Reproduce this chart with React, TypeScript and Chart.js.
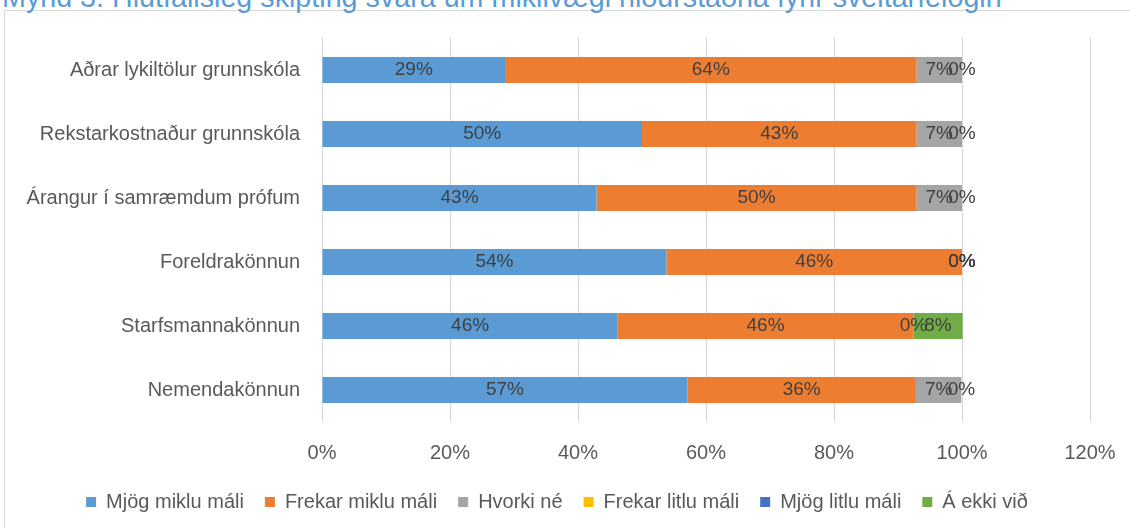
import React, { useEffect, useRef } from "react";
import { Chart, registerables } from "chart.js";

Chart.register(...registerables);

const titleText =
  "Mynd 3. Hlutfallsleg skipting svara um mikilvægi niðurstaðna fyrir sveitarfélögin";

const categories = [
  "Aðrar lykiltölur grunnskóla",
  "Rekstarkostnaður grunnskóla",
  "Árangur í samræmdum prófum",
  "Foreldrakönnun",
  "Starfsmannakönnun",
  "Nemendakönnun",
];

const seriesNames = [
  "Mjög miklu máli",
  "Frekar miklu máli",
  "Hvorki né",
  "Frekar litlu máli",
  "Mjög litlu máli",
  "Á ekki við",
];

const mjogMikluMali = [28.6, 50.0, 42.9, 53.8, 46.2, 57.1];
const frekarMikluMali = [64.3, 42.9, 50.0, 46.2, 46.2, 35.7];
const hvorkiNe = [7.1, 7.1, 7.1, 0, 0, 7.1];
const frekarLitluMali = [0, 0, 0, 0, null, 0];
const mjogLitluMali = [null, null, null, 0, null, null];
const aEkkiVid = [null, null, null, null, 7.7, null];

const xMin = 0;
const xMax = 120;
const xStep = 20;

const seriesColors = ["#5B9BD5", "#ED7D31", "#A5A5A5", "#FFC000", "#4472C4", "#70AD47"];

const FONT = '"Liberation Sans", Arial, sans-serif';

const segLabels = {
  id: "segLabels",
  afterDatasetsDraw(chart: any) {
    const ctx = chart.ctx;
    ctx.save();
    ctx.font = `19px ${FONT}`;
    ctx.fillStyle = "#404040";
    ctx.textAlign = "center";
    ctx.textBaseline = "middle";
    chart.data.datasets.forEach((ds: any, di: number) => {
      const meta = chart.getDatasetMeta(di);
      if (meta.hidden) return;
      meta.data.forEach((el: any, i: number) => {
        const v = ds.data[i];
        if (v === null || v === undefined) return;
        const p = el.getProps(["x", "y", "base"], true);
        ctx.fillText(Math.round(v) + "%", (p.x + p.base) / 2, p.y);
      });
    });
    ctx.restore();
  },
};

export default function App() {
  const ref = useRef<HTMLCanvasElement | null>(null);

  useEffect(() => {
    if (!ref.current) return;
    const allSeries = [mjogMikluMali, frekarMikluMali, hvorkiNe, frekarLitluMali, mjogLitluMali, aEkkiVid];
    const chart = new Chart(ref.current, {
      type: "bar",
      data: {
        labels: categories,
        datasets: allSeries.map((d, i) => ({
          label: seriesNames[i],
          data: d as any,
          backgroundColor: seriesColors[i],
          borderWidth: 0,
          barPercentage: 0.41,
          categoryPercentage: 1,
        })),
      },
      options: {
        indexAxis: "y",
        responsive: false,
        animation: false,
        layout: { padding: { top: 38, right: 40, left: 24, bottom: 6 } },
        scales: {
          x: {
            stacked: true,
            min: xMin,
            max: xMax,
            ticks: {
              stepSize: xStep,
              callback: (v: any) => v + "%",
              font: { family: FONT, size: 20 },
              color: "#595959",
              padding: 19,
            },
            grid: { color: "#D9D9D9", lineWidth: 1, drawTicks: false },
            border: { display: false },
            afterFit: (s: any) => {
              s.height = 49;
              s.paddingRight = 0;
            },
          },
          y: {
            stacked: true,
            ticks: {
              font: { family: FONT, size: 20 },
              color: "#595959",
              padding: 22,
            },
            grid: { display: false, drawTicks: false },
            border: { display: false },
            afterFit: (s: any) => {
              s.width = 298;
            },
          },
        },
        plugins: {
          legend: {
            position: "bottom",
            labels: {
              boxWidth: 10,
              boxHeight: 10,
              padding: 21,
              color: "#595959",
              font: { family: FONT, size: 20 },
            },
          },
          tooltip: { enabled: false },
        },
      },
      plugins: [segLabels],
    });
    return () => chart.destroy();
  }, []);

  return (
    <div
      style={{
        position: "absolute",
        left: 0,
        top: 0,
        width: 1130,
        height: 528,
        overflow: "hidden",
        background: "#fff",
      }}
    >
      <div
        style={{
          position: "absolute",
          left: 4,
          top: 10,
          width: 1200,
          height: 600,
          border: "1px solid #D9D9D9",
        }}
      />
      <div
        style={{
          position: "absolute",
          left: 2,
          top: -17,
          fontFamily: FONT,
          fontSize: 28.7,
          lineHeight: "29px",
          color: "#5B9BD5",
          whiteSpace: "nowrap",
        }}
      >
        {titleText}
      </div>
      <canvas ref={ref} width={1130} height={528} style={{ position: "absolute", left: 0, top: 0 }} />
    </div>
  );
}
